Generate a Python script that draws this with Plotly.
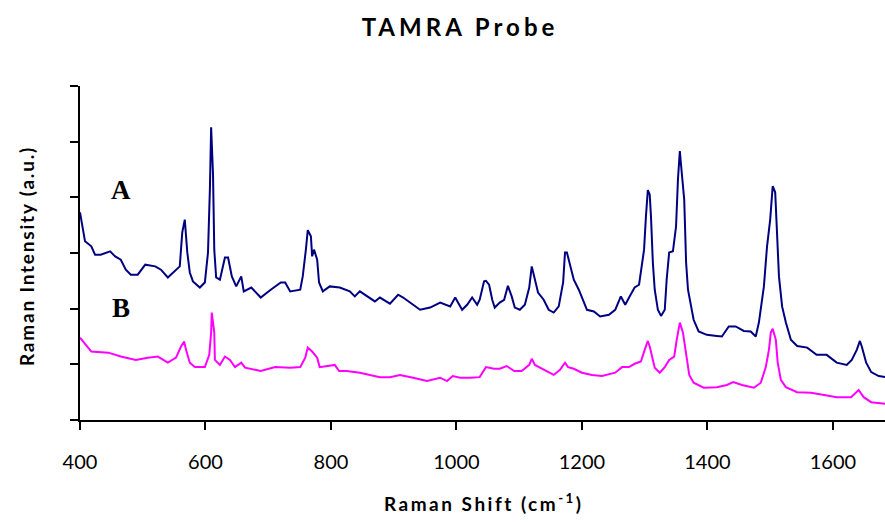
import plotly.graph_objects as go

# Spectrum A (navy)
shift_a = [400, 408, 418, 424, 433, 448, 456, 465, 473, 481, 492, 504, 520, 529, 540, 551, 559, 563,
           566, 567, 571, 575, 580, 591, 599, 604, 607, 609, 612, 614, 617, 623, 631, 636, 642, 649,
           657, 661, 673, 688, 704, 720, 727, 735, 751, 755, 760, 763, 768, 770, 773, 778, 781, 787,
           798, 814, 830, 838, 846, 857, 870, 878, 894, 907, 915, 926, 942, 958, 974, 990, 998, 1009,
           1017, 1025, 1033, 1037, 1044, 1047, 1052, 1057, 1061, 1069, 1076, 1082, 1088, 1093, 1101,
           1109, 1116, 1120, 1125, 1130, 1139, 1147, 1155, 1163, 1170, 1173, 1176, 1181, 1187, 1195,
           1200, 1208, 1219, 1229, 1243, 1253, 1262, 1269, 1276, 1284, 1291, 1294, 1299, 1302, 1305,
           1308, 1310, 1313, 1316, 1321, 1326, 1332, 1335, 1339, 1345, 1348, 1350, 1353, 1356, 1359,
           1363, 1366, 1369, 1374, 1378, 1386, 1399, 1415, 1423, 1434, 1445, 1458, 1469, 1477, 1482,
           1490, 1495, 1500, 1503, 1504, 1508, 1511, 1514, 1519, 1525, 1533, 1543, 1559, 1574, 1590,
           1606, 1622, 1630, 1638, 1643, 1646, 1653, 1661, 1673, 1683]
int_a = [3.73, 3.21, 3.12, 2.97, 2.97, 3.03, 2.94, 2.88, 2.70, 2.61, 2.61, 2.79, 2.76, 2.70, 2.56, 2.67,
         2.76, 3.37, 3.60, 3.60, 3.01, 2.65, 2.49, 2.38, 2.47, 3.01, 4.14, 5.26, 4.41, 3.06, 2.56, 2.52,
         2.92, 2.92, 2.58, 2.40, 2.58, 2.31, 2.38, 2.20, 2.34, 2.47, 2.47, 2.31, 2.34, 2.58, 3.06, 3.41,
         3.30, 2.94, 3.06, 2.88, 2.47, 2.31, 2.40, 2.38, 2.31, 2.22, 2.31, 2.22, 2.13, 2.20, 2.09, 2.25,
         2.20, 2.11, 1.98, 2.02, 2.11, 2.04, 2.20, 1.98, 2.07, 2.20, 2.07, 2.16, 2.49, 2.50, 2.43, 2.16,
         2.02, 2.11, 2.16, 2.41, 2.22, 2.02, 1.98, 2.07, 2.38, 2.76, 2.52, 2.29, 2.16, 1.98, 1.93, 2.04,
         2.47, 3.01, 3.01, 2.76, 2.52, 2.34, 2.20, 1.98, 1.95, 1.86, 1.89, 1.98, 2.22, 2.07, 2.22, 2.38,
         2.43, 2.65, 3.06, 3.66, 4.13, 4.05, 3.66, 2.83, 2.34, 1.98, 1.87, 1.98, 2.52, 3.01, 3.03, 3.30,
         3.48, 4.32, 4.83, 4.45, 3.96, 2.83, 2.34, 2.04, 1.80, 1.59, 1.53, 1.51, 1.50, 1.68, 1.68, 1.60,
         1.59, 1.50, 1.75, 2.40, 3.12, 3.60, 4.11, 4.20, 4.09, 3.33, 2.58, 2.04, 1.75, 1.44, 1.33, 1.30,
         1.17, 1.17, 1.03, 0.99, 1.08, 1.26, 1.42, 1.32, 1.03, 0.86, 0.79, 0.77]

# Spectrum B (magenta)
shift_b = [400, 418, 445, 465, 489, 508, 524, 540, 553, 561, 566, 569, 575, 583, 599, 606, 609, 610,
           614, 615, 623, 631, 639, 647, 657, 663, 688, 711, 735, 751, 759, 763, 770, 778, 782, 794,
           806, 813, 825, 846, 862, 878, 894, 910, 931, 953, 974, 985, 994, 1006, 1022, 1037, 1047,
           1060, 1069, 1080, 1092, 1104, 1116, 1120, 1125, 1136, 1147, 1155, 1165, 1173, 1178, 1187,
           1200, 1216, 1232, 1253, 1264, 1275, 1284, 1294, 1300, 1305, 1308, 1313, 1316, 1324, 1332,
           1339, 1347, 1351, 1356, 1361, 1366, 1371, 1378, 1394, 1415, 1431, 1441, 1455, 1474, 1485,
           1493, 1498, 1501, 1504, 1509, 1512, 1517, 1525, 1543, 1565, 1586, 1606, 1629, 1637, 1641,
           1649, 1661, 1683]
int_b = [1.48, 1.23, 1.21, 1.14, 1.08, 1.12, 1.14, 1.03, 1.12, 1.32, 1.41, 1.26, 1.03, 0.95, 0.95, 1.17,
         1.57, 1.93, 1.57, 1.08, 0.99, 1.14, 1.08, 0.95, 1.03, 0.94, 0.88, 0.95, 0.94, 0.95, 1.12, 1.30,
         1.23, 1.12, 0.95, 0.97, 0.99, 0.88, 0.88, 0.85, 0.81, 0.77, 0.77, 0.81, 0.76, 0.70, 0.76, 0.70,
         0.79, 0.76, 0.76, 0.77, 0.95, 0.92, 0.92, 0.97, 0.88, 0.88, 0.99, 1.10, 0.99, 0.92, 0.85, 0.81,
         0.90, 1.03, 0.95, 0.92, 0.85, 0.81, 0.79, 0.85, 0.95, 0.95, 1.01, 1.05, 1.26, 1.42, 1.32, 1.08,
         0.94, 0.85, 0.95, 1.08, 1.14, 1.44, 1.75, 1.57, 1.21, 0.81, 0.67, 0.58, 0.59, 0.63, 0.68, 0.63,
         0.58, 0.67, 0.95, 1.26, 1.57, 1.64, 1.44, 1.03, 0.72, 0.59, 0.50, 0.49, 0.45, 0.41, 0.41, 0.49,
         0.54, 0.41, 0.32, 0.29]

x_ticks = [400, 600, 800, 1000, 1200, 1400, 1600]
y_ticks = [0, 1, 2, 3, 4, 5, 6]
series_labels = ["A", "B"]
label_pos = [(465, 4.14), (465, 2.02)]

fig = go.Figure()
fig.add_trace(go.Scatter(x=shift_a, y=int_a, mode="lines", line=dict(color="#000080", width=2),
                         name="A", showlegend=False))
fig.add_trace(go.Scatter(x=shift_b, y=int_b, mode="lines", line=dict(color="#FF00FF", width=2),
                         name="B", showlegend=False))

for lab, (lx, ly) in zip(series_labels, label_pos):
    fig.add_annotation(x=lx, y=ly, text="<b>%s</b>" % lab, showarrow=False,
                       xanchor="center", yanchor="middle",
                       font=dict(family="Liberation Serif", size=27, color="black"))

fig.add_annotation(xref="paper", yref="paper", x=0.502, y=-0.2485, showarrow=False,
                   xanchor="center", yanchor="middle",
                   text='<span style="letter-spacing:2.5px"><b>Raman Shift (cm<sup>-1</sup>)</b></span>',
                   font=dict(family="Lato", size=19, color="black"))
fig.add_annotation(xref="paper", yref="paper", x=-0.0671, y=0.491, showarrow=False, textangle=-90,
                   xanchor="center", yanchor="middle",
                   text='<span style="letter-spacing:1.8px"><b>Raman Intensity (a.u.)</b></span>',
                   font=dict(family="Lato", size=19, color="black"))

fig.update_layout(
    width=885, height=522,
    margin=dict(l=80, r=0, t=86, b=102),
    plot_bgcolor="white", paper_bgcolor="white",
    title=dict(text='<span style="letter-spacing:4px"><b>TAMRA Probe</b></span>',
               x=460 / 885, xanchor="center", y=1 - 28 / 522, yanchor="middle",
               font=dict(family="Lato", size=24, color="black")),
    xaxis=dict(range=[400, 1683], tickvals=x_ticks, showgrid=False, zeroline=False,
               showline=True, linecolor="black", linewidth=1.5, ticks="outside", ticklen=8,
               tickcolor="black", tickwidth=1.5, ticklabelstandoff=15,
               tickfont=dict(family="Lato", size=20, color="black")),
    yaxis=dict(range=[0, 6], tickvals=y_ticks, showticklabels=False, showgrid=False,
               zeroline=False, showline=True, linecolor="black", linewidth=1.5,
               ticks="outside", ticklen=8, tickcolor="black", tickwidth=1.5),
)

fig.write_html("out.html")
